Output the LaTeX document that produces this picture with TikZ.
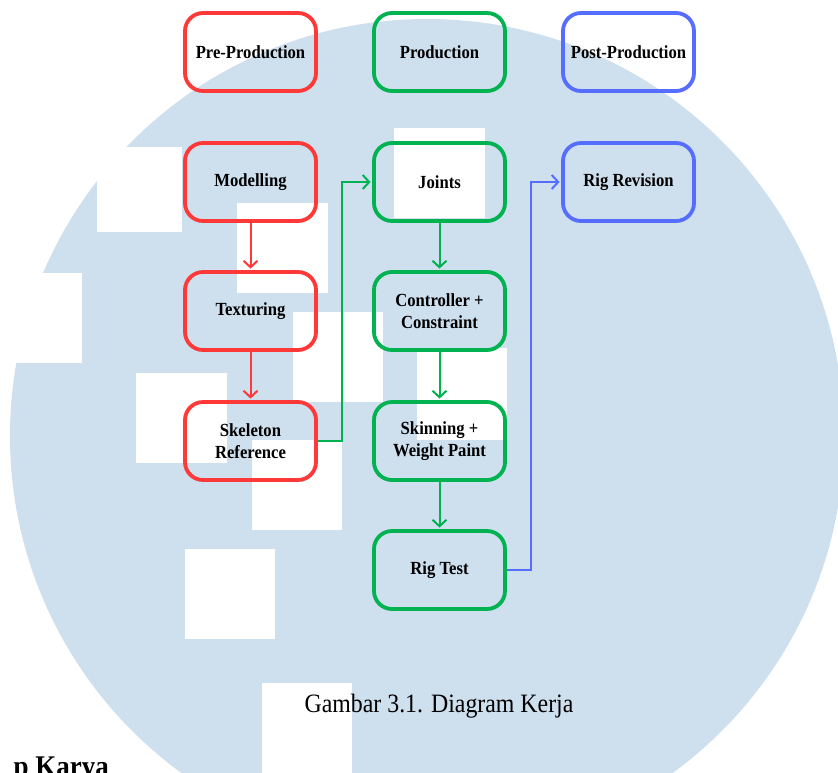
\documentclass[tikz,border=0pt]{standalone}
\usepackage{fontspec}
\setmainfont{Liberation Serif}[FakeStretch=0.9]
\usetikzlibrary{arrows.meta}
\definecolor{wmblue}{RGB}{206,223,238}
\definecolor{cred}{RGB}{255,56,56}
\definecolor{cgreen}{RGB}{0,178,80}
\definecolor{cblue}{RGB}{86,110,255}
\begin{document}
\begin{tikzpicture}[x=1pt,y=-1pt,
  stage/.style={draw, line width=3.8pt, rounded corners=18pt, minimum width=131pt,
    minimum height=78pt, align=center, text=black, inner sep=0pt,
    font=\fontsize{18.5}{22.5}\selectfont\bfseries},
  conn/.style={line width=2pt, -{Straight Barb[length=6.5pt,width=14pt]}, shorten >=1.5pt},
  wmsq/.style={fill=white}
]
\useasboundingbox (0,0) rectangle (838,772);
\clip (0,0) rectangle (838,772);
\fill[white] (0,0) rectangle (838,772);
% watermark
\fill[wmblue] (427,436) circle[radius=417pt];
\fill[wmsq] (97,147) rectangle (182,232);
\fill[wmsq] (237,203) rectangle (328,293);
\fill[wmsq] (0,273) rectangle (82,363);
\fill[wmsq] (136,373) rectangle (227,463);
\fill[wmsq] (252,440) rectangle (342,530);
\fill[wmsq] (293,312) rectangle (383,402);
\fill[wmsq] (394,128) rectangle (485,218);
\fill[wmsq] (417,348) rectangle (507,440);
\fill[wmsq] (185,549) rectangle (275,639);
\fill[wmsq] (262,683) rectangle (352,780);
% header row
\node[stage, draw=cred]   (pre)  at (250.5,52) {Pre-Production};
\node[stage, draw=cgreen] (prod) at (439.5,52) {Production};
\node[stage, draw=cblue]  (post) at (628.5,52) {Post-Production};
% pre-production column
\node[stage, draw=cred] (model) at (250.5,182) {Modelling};
\node[stage, draw=cred] (tex)   at (250.5,311) {Texturing};
\node[stage, draw=cred] (skel)  at (250.5,441) {Skeleton\\Reference};
% production column
\node[stage, draw=cgreen] (joint) at (439.5,182) {Joints};
\node[stage, draw=cgreen] (ctrl)  at (439.5,311) {Controller +\\Constraint};
\node[stage, draw=cgreen] (skin)  at (439.5,441) {Skinning +\\Weight Paint};
\node[stage, draw=cgreen] (test)  at (439.5,570) {Rig Test};
% post-production column
\node[stage, draw=cblue] (rev) at (628.5,182) {Rig Revision};
% connectors
\draw[conn, cred] (model) -- (tex);
\draw[conn, cred] (tex) -- (skel);
\draw[conn, cgreen] (joint) -- (ctrl);
\draw[conn, cgreen] (ctrl) -- (skin);
\draw[conn, cgreen] (skin) -- (test);
\coordinate (k1) at (342,441);
\coordinate (k2) at (531,570);
\draw[conn, cgreen] (skel.east) -- (k1) |- (joint.west);
\draw[conn, cblue] (test.east) -- (k2) |- (rev.west);
% caption and cut-off heading
\node[font=\fontsize{26.5}{30}\selectfont] (cap) at (439,706) {Gambar 3.1. Diagram Kerja};
\node[font=\fontsize{30}{34}\selectfont\bfseries, anchor=base east, inner sep=0pt] (karya) at (109,776) {p Karya};
\end{tikzpicture}
\end{document}
